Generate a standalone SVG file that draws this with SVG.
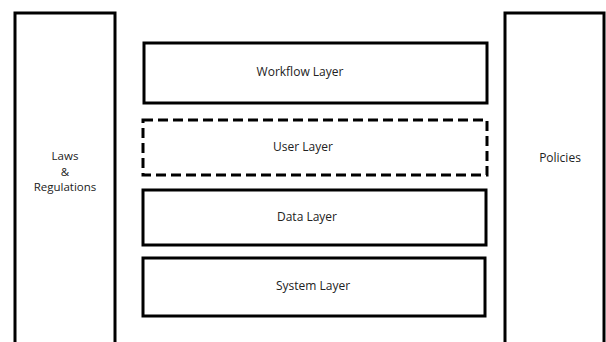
<svg xmlns="http://www.w3.org/2000/svg" width="606" height="342" viewBox="0 0 606 342">
<style>
.box{fill:#fff;stroke:#000;stroke-width:3}
.dash{fill:#fff;stroke:#000;stroke-width:3;stroke-dasharray:10 5}
text{font-family:"Open Sans","Liberation Sans",sans-serif;font-size:12px;fill:#222;text-anchor:middle}
text.sm{font-size:11.5px}
</style>
<rect width="606" height="342" fill="#fff"/>
<g id="laws">
<rect class="box" x="15" y="13" width="100" height="335"/>
<text class="sm" x="65" y="160">Laws</text>
<text class="sm" x="65" y="175.5">&amp;</text>
<text class="sm" x="65" y="191">Regulations</text>
</g>
<g id="policies">
<rect class="box" x="505" y="13" width="99" height="335"/>
<text x="560" y="162">Policies</text>
</g>
<g id="workflow">
<rect class="box" x="144" y="43" width="343" height="60"/>
<text x="300" y="76">Workflow Layer</text>
</g>
<g id="user">
<rect class="dash" x="143" y="120" width="344" height="55"/>
<text x="303" y="151">User Layer</text>
</g>
<g id="data">
<rect class="box" x="143" y="190" width="343" height="55"/>
<text x="307" y="221">Data Layer</text>
</g>
<g id="system">
<rect class="box" x="143" y="258" width="342" height="58"/>
<text x="313" y="290">System Layer</text>
</g>
<g id="connectors"/>
</svg>
